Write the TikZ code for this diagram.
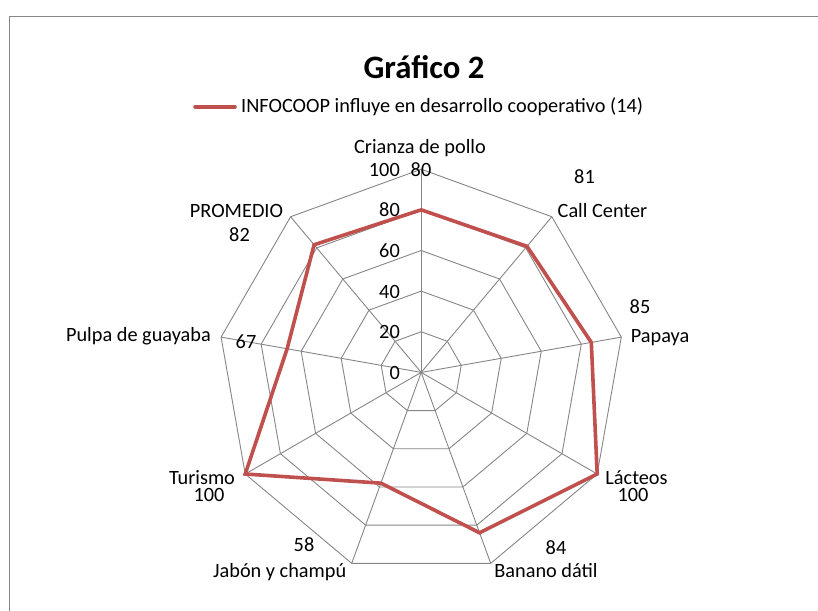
\documentclass[tikz,border=0pt]{standalone}
\usepackage{fontspec}
\setmainfont{Carlito}
\definecolor{gridgray}{RGB}{134,134,134}
\definecolor{serred}{RGB}{192,80,77}
\tikzset{
  gridline/.style={draw=gridgray, line width=0.9pt},
  axisline/.style={draw=gridgray, line width=0.9pt},
  serline/.style={draw=serred, line width=3.6pt, line join=miter, line cap=round},
  lbl/.style={inner sep=0pt, anchor=base, font=\fontsize{20.3}{24}\selectfont},
  lble/.style={lbl, anchor=base east},
  lblw/.style={lbl, anchor=base west},
}
\begin{document}
\begin{tikzpicture}[x=1pt,y=-1pt]
\useasboundingbox (0,0) rectangle (818,610);
% chart frame
\draw[draw=gridgray, line width=1pt] (9.5,640) -- (9.5,16.5) -- (840,16.5);
% title and legend
\node[inner sep=0pt, anchor=base, font=\fontsize{32.7}{36}\selectfont\bfseries] (title) at (424,78) {Gráfico 2};
\coordinate (legA) at (195,106.7);
\coordinate (legB) at (235,106.7);
\draw[serline, line cap=round] (legA) -- (legB);
\node[lblw] (legtext) at (241,112.7) {INFOCOOP influye en desarrollo cooperativo (14)};
% radar
\coordinate (c) at (421.2,372.4);
\begin{scope}[shift={(c)}]
  \foreach \k in {0,...,8}{
    \foreach \j/\r in {1/40.64,2/81.28,3/121.92,4/162.56,5/203.2}{
      \coordinate (v-\k-\j) at ({90-40*\k}:\r pt);
    }
  }
  \foreach \j in {1,...,5}{
    \draw[gridline] (v-0-\j) -- (v-1-\j) -- (v-2-\j) -- (v-3-\j) -- (v-4-\j) -- (v-5-\j) -- (v-6-\j) -- (v-7-\j) -- (v-8-\j) -- cycle;
  }
  \foreach \k in {1,...,8}{
    \draw[axisline] (c) -- (v-\k-5);
  }
  \draw[axisline, line width=1.3pt] (c) -- (v-0-5);
  \foreach \k/\v in {0/80,1/81,2/85,3/100,4/84,5/58,6/100,7/67,8/82}{
    \coordinate (d-\k) at ({90-40*\k}:{2.032*\v pt});
  }
  \draw[serline] (d-0) -- (d-1) -- (d-2) -- (d-3) -- (d-4) -- (d-5) -- (d-6) -- (d-7) -- (d-8) -- cycle;
\end{scope}
% tick labels
\node[lble] (t0) at (400,379.4) {0};
\node[lble] (t20) at (400,338.8) {20};
\node[lble] (t40) at (400,298.1) {40};
\node[lble] (t60) at (400,257.5) {60};
\node[lble] (t80) at (400,216.9) {80};
\node[lble] (t100) at (400,176.5) {100};
% category labels
\node[lbl] (cat0) at (420,153) {Crianza de pollo};
\node[lbl] (cat1) at (602.5,217) {Call Center};
\node[lblw] (cat2) at (630.7,342.7) {Papaya};
\node[lbl] (cat3) at (636.5,484.5) {Lácteos};
\node[lbl] (cat4) at (546,577) {Banano dátil};
\node[lbl] (cat5) at (279.7,577) {Jabón y champú};
\node[lbl] (cat6) at (202,484.5) {Turismo};
\node[lble] (cat7) at (211,341.7) {Pulpa de guayaba};
\node[lbl] (cat8) at (236.5,217.3) {PROMEDIO};
% value labels
\node[lbl] (val0) at (421,176.5) {80};
\node[lbl] (val1) at (584.5,183) {81};
\node[lbl] (val2) at (640,313) {85};
\node[lbl] (val3) at (633,501.5) {100};
\node[lbl] (val4) at (556,554.5) {84};
\node[lbl] (val5) at (304,551.5) {58};
\node[lbl] (val6) at (209,501.5) {100};
\node[lbl] (val7) at (246,348) {67};
\node[lbl] (val8) at (239.5,241.7) {82};
\end{tikzpicture}
\end{document}
